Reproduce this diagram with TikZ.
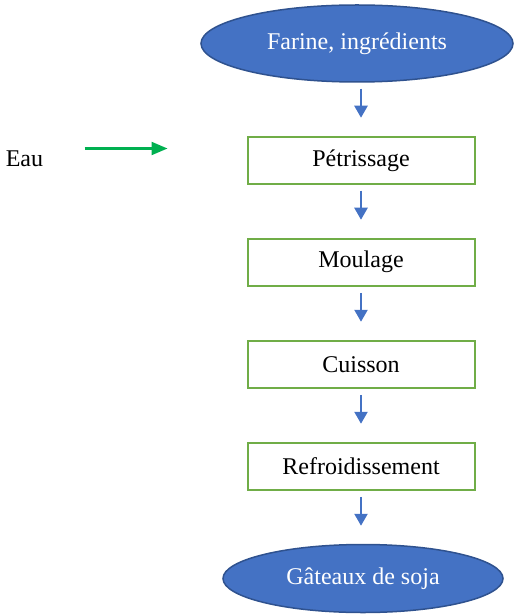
\documentclass[tikz,border=0pt]{standalone}
\usepackage{fontspec}
\setmainfont{Liberation Serif}
\usetikzlibrary{arrows.meta,positioning,shapes.geometric}
\definecolor{ovalblue}{HTML}{4472C4}
\definecolor{ovaledge}{HTML}{2F528F}
\definecolor{boxgreen}{HTML}{70AD47}
\definecolor{eaugreen}{HTML}{00B050}
\begin{document}
\begin{tikzpicture}[
  x=0.5pt,y=-0.5pt,
  node distance=26.5pt,
  every node/.style={font=\fontsize{12}{14}\selectfont},
  oval/.style={ellipse,draw=ovaledge,line width=0.75pt,fill=ovalblue,text=white,inner sep=0pt},
  box/.style={draw=boxgreen,line width=1pt,fill=white,minimum width=113.5pt,minimum height=23.5pt,inner sep=0pt},
  arr/.style={-{Triangle[length=6pt,width=6.5pt]},line width=1.2pt,draw=ovalblue,shorten <=3pt,shorten >=9pt},
  garr/.style={-{Triangle[length=8pt,width=6.5pt]},line width=1.1pt,draw=eaugreen}
]
\useasboundingbox (0,0) rectangle (514,614);
\node[oval,minimum width=156pt,minimum height=38.5pt] (farine) at (357,43.5) {Farine, ingrédients};
\node[box,below=of farine,xshift=2pt] (petr) {Pétrissage};
\node[box,below=of petr] (moul) {Moulage};
\node[box,below=of moul] (cuis) {Cuisson};
\node[box,below=of cuis] (refr) {Refroidissement};
\node[oval,minimum width=140pt,minimum height=34pt,below=of refr,xshift=1pt] (gateaux) {Gâteaux de soja};
\node[inner sep=0pt,base left=101.5pt of petr] (eau) {Eau};
\draw[arr] (farine.south -| petr) -- (petr.north);
\draw[arr] (petr) -- (moul);
\draw[arr] (moul) -- (cuis);
\draw[arr] (cuis) -- (refr);
\draw[arr] (refr.south) -- (gateaux.north -| refr);
\draw[garr] ([xshift=20.5pt,yshift=8.75pt]eau.base east) -- ([xshift=-39.5pt,yshift=8.75pt]petr.base west);
\end{tikzpicture}
\end{document}
